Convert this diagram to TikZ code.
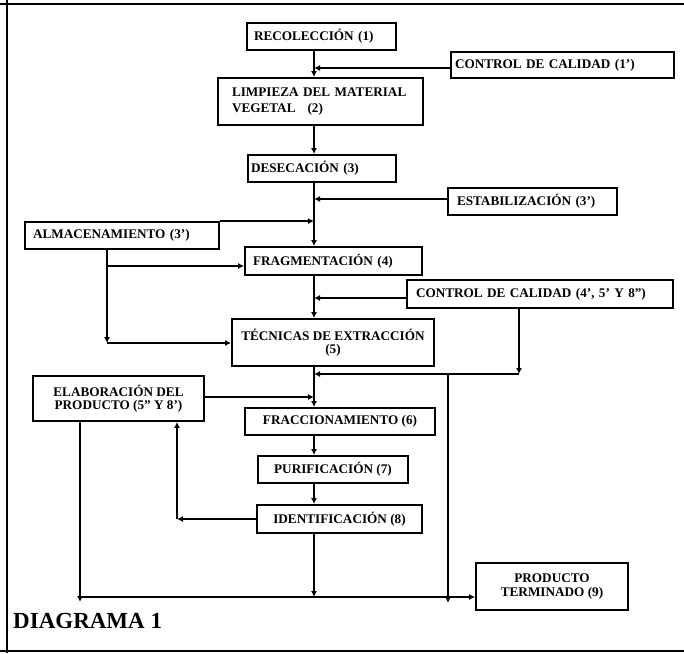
\documentclass[tikz,border=0pt]{standalone}
\usepackage{fontspec}
\setmainfont{Liberation Serif}
\usetikzlibrary{arrows.meta}

% label font for the process boxes
\newcommand\lblfont{\fontsize{13.2}{13.5}\selectfont\bfseries}
% box with left-aligned text: name, x1, y1, x2, y2, left padding, text
\newcommand\lbox[7]{%
  \node[box, minimum width={#4-#2}, minimum height={#5-#3},
        inner xsep=#6pt, text width={(#4-#2-2*#6)*1pt}, align=left]
        (#1) at ({(#2+#4)/2},{(#3+#5)/2}) {#7};}
% box with centred text: name, x1, y1, x2, y2, text
\newcommand\cbox[6]{%
  \node[box, minimum width={#4-#2}, minimum height={#5-#3}, align=center]
        (#1) at ({(#2+#4)/2},{(#3+#5)/2}) {#6};}

\begin{document}
\begin{tikzpicture}[x=1pt,y=-1pt,
  box/.style={draw, line width=1.8pt, inner sep=0pt, font=\lblfont},
  arr/.style={line width=1.6pt, -{Latex[length=6pt,width=6pt]}},
  frame/.style={line width=1.8pt}]
\useasboundingbox (0,0) rectangle (684,653);

% page frame
\draw[frame] (0,4) -- (684,4);
\draw[frame] (7,0) -- (7,653);
\draw[frame] (0,651) -- (684,651);

% process boxes
\lbox{rec}{247}{23}{396}{50}{7}{RECOLECCIÓN (1)}
\lbox{cc1}{451}{52}{674}{78}{4}{CONTROL DE CALIDAD (1')}
\lbox{limp}{218}{78}{423}{125}{14}{LIMPIEZA DEL MATERIAL\\[2pt]VEGETAL\hspace{12pt}(2)}
\lbox{des}{248}{155}{396}{182}{3}{DESECACIÓN (3)}
\lbox{estab}{448}{188}{617}{215}{9}{ESTABILIZACIÓN (3')}
\lbox{alm}{25}{222}{219}{249}{8}{ALMACENAMIENTO (3')}
\lbox{frag}{245}{247}{422}{275}{8}{FRAGMENTACIÓN (4)}
\lbox{cc4}{407}{280}{673}{308}{9}{CONTROL DE CALIDAD (4', 5' Y 8'')}
\cbox{tec}{232}{319}{434}{366}{TÉCNICAS DE EXTRACCIÓN\\(5)}
\cbox{elab}{33}{376}{204}{421}{ELABORACIÓN DEL\\PRODUCTO (5'' Y 8')}
\cbox{fracc}{245}{408}{435}{435}{FRACCIONAMIENTO (6)}
\cbox{purif}{258}{456}{408}{483}{PURIFICACIÓN (7)}
\cbox{ident}{257}{505}{422}{533}{IDENTIFICACIÓN (8)}
\cbox{prod}{476}{563}{628}{610}{PRODUCTO\\TERMINADO (9)}

\node[anchor=base west, inner sep=0pt, font=\fontsize{23}{23}\selectfont\bfseries]
  (title) at (13,628) {DIAGRAMA 1};

% junction points
\coordinate (T)  at (314,0);
\coordinate (j1) at (314,68);
\coordinate (j2) at (314,199);
\coordinate (j3) at (314,298);
\coordinate (j4) at (314,374);
\coordinate (j5) at (314,397);
\coordinate (a1) at (107,266);
\coordinate (a2) at (107,343);
\coordinate (q1) at (519,374);
\coordinate (q2) at (448,374);
\coordinate (q3) at (448,603);
\coordinate (b1) at (314,597);
\coordinate (e1) at (177,519);
\coordinate (e2) at (80,602);
\coordinate (h1) at (80,597);

% main trunk
\draw[arr] (rec.south -| T) -- (limp.north -| T);
\draw[arr] (limp.south -| T) -- (des.north -| T);
\draw[arr] (des.south -| T) -- (frag.north -| T);
\draw[arr] (frag.south -| T) -- (tec.north -| T);
\draw[arr] (tec.south -| T) -- (fracc.north -| T);
\draw[arr] (fracc.south -| T) -- (purif.north -| T);
\draw[arr] (purif.south -| T) -- (ident.north -| T);
\draw[arr] (ident.south -| T) -- (b1);

% side inputs
\draw[arr] (cc1.west |- j1) -- (j1);
\draw[arr] (estab.west |- j2) -- (j2);
\draw[arr] (alm.north east) -- (alm.north east -| T);
\draw[arr] (alm.south -| a2) -- (a2);
\draw[arr] (a1) -- (frag.west |- a1);
\draw[arr] (a2) -- (tec.west |- a2);
\draw[arr] (cc4.west |- j3) -- (j3);
\draw[arr] (cc4.south -| q1) -- (q1);
\draw[arr] (q1) -- (j4);
\draw[arr] (q2) -- (q3);
\draw[arr] (elab.east |- j5) -- (j5);

% feedback and output
\draw[arr] (ident.west |- e1) -- (e1);
\draw[arr] (e1) -- (elab.south -| e1);
\draw[arr] (elab.south -| e2) -- (e2);
\draw[arr] (h1) -- (prod.west |- h1);
\end{tikzpicture}
\end{document}
